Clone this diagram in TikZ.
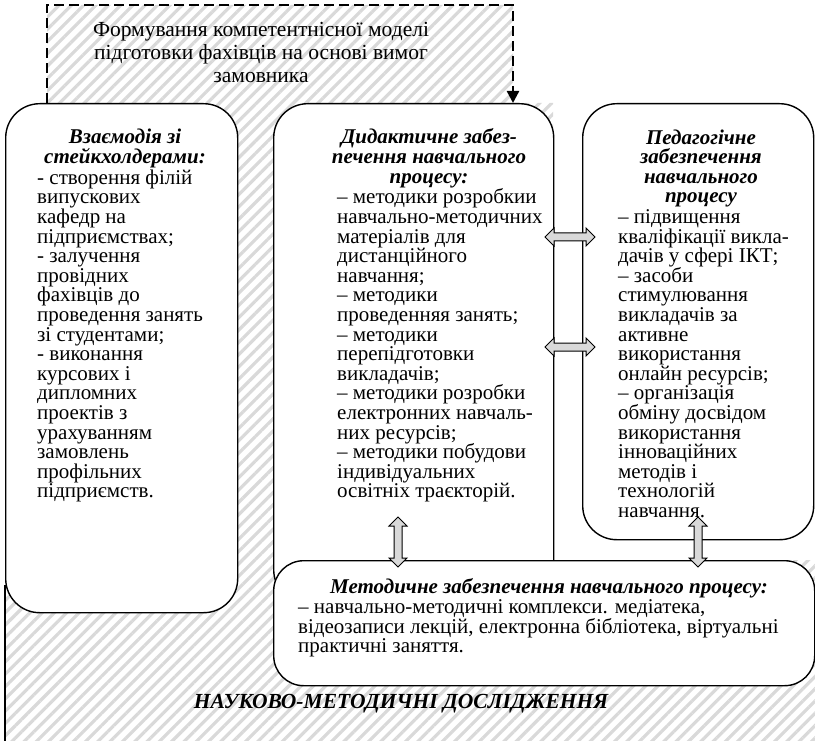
\documentclass[tikz,border=0pt]{standalone}
\usepackage{fontspec}
\setmainfont{Liberation Serif}
\usetikzlibrary{positioning,shapes.arrows,patterns.meta,arrows.meta}

\tikzset{
  hatch/.style={pattern={Lines[angle=45,distance=8.7pt,line width=3.2pt]}, pattern color=black!15},
  roundbox/.style={draw, line width=1.4pt, fill=white, rounded corners=34pt, inner sep=0pt},
  bodytext/.style={font=\fontsize{21}{19.6}\selectfont, align=left, inner sep=0pt},
  headtext/.style={font=\fontsize{21}{19.6}\selectfont\bfseries\itshape, align=center, inner sep=0pt},
  plaintext/.style={font=\fontsize{21.5}{23}\selectfont, align=center, inner sep=0pt},
  blockarrow/.style={double arrow, draw, line width=1pt, fill=black!15, inner sep=3.5pt,
    double arrow head extend=5pt, minimum height=50pt},
  bracket/.style={dash pattern=on 10pt off 5pt, line width=2.4pt, -{Triangle[length=12pt,width=12pt]}}
}

\begin{document}
\begin{tikzpicture}[x=1pt, y=-1pt]
  \useasboundingbox (0,0) rectangle (815,741);

  % hatched background
  \fill[hatch] (47,5) -- (513,5) -- (513,103) -- (553,103) -- (553,560) -- (815,560)
    -- (815,741) -- (5,741) -- (5,400) -- (47,400) -- cycle;
  \draw[line width=1.4pt] (5,585) -- (5,741);

  % boxes
  \node[roundbox, minimum width=232pt, minimum height=509pt, anchor=north west] (stake) at (5,103) {};
  \node[roundbox, minimum width=280pt, minimum height=500pt, anchor=north west] (did) at (273,103) {};
  \node[roundbox, minimum width=231pt, minimum height=436pt, anchor=north west] (ped) at (582,103) {};
  \node[roundbox, rounded corners=30pt, minimum width=541pt, minimum height=125pt,
        anchor=north west] (method) at (273,560) {};

  % customer model
  \coordinate (mtl) at (47,5);
  \coordinate (mtr) at (513,5);
  \draw[bracket] (stake.north -| mtl) -- (mtl) -- (mtr) -- (did.north -| mtr);
  \node[plaintext, anchor=base] (model) at (261,83)
    {Формування компетентнісної моделі\\ підготовки фахівців на основі вимог\\ замовника};

  % texts (base = last line)
  \node[headtext, anchor=base] (staketitle) at (125,163.6) {Взаємодія зі\\ стейкхолдерами:};
  \node[bodytext, anchor=base west] (staketext) at (37,497.8)
    {- створення філій\\ випускових\\ кафедр на\\ підприємствах;\\ - залучення\\ провідних\\
     фахівців до\\ проведення занять\\ зі студентами;\\ - виконання\\ курсових і\\ дипломних\\
     проектів з\\ урахуванням\\ замовлень\\ профільних\\ підприємств.};

  \node[headtext, anchor=base] (didtitle) at (429,183.2)
    {Дидактичне забез-\\ печення навчального\\ процесу:};
  \node[bodytext, anchor=base west] (didtext) at (337,497.8)
    {– методики розробкии\\ навчально-методичних\\ матеріалів для\\ дистанційного\\ навчання;\\
     – методики\\ проведенняя занять;\\ – методики\\ перепідготовки\\ викладачів;\\
     – методики розробки\\ електронних навчаль-\\ них ресурсів;\\ – методики побудови\\
     індивідуальних\\ освітніх траєкторій.};

  \node[headtext, anchor=base] (pedtitle) at (701,202.8)
    {Педагогічне\\ забезпечення\\ навчального\\ процесу};
  \node[bodytext, anchor=base west] (pedtext) at (618,517.4)
    {– підвищення\\ кваліфікації викла-\\ дачів у сфері ІКТ;\\ – засоби\\ стимулювання\\
     викладачів за\\ активне\\ використання\\ онлайн ресурсів;\\ – організація\\
     обміну досвідом\\ використання\\ інноваційних\\ методів і\\ технологій\\ навчання.};

  \node[headtext, anchor=base] (methodtitle) at (549,593)
    {Методичне забезпечення навчального процесу:};
  \node[bodytext, anchor=base west] (methodtext) at (298,652.8)
    {– навчально-методичні комплекси. медіатека,\\
     відеозаписи лекцій, електронна бібліотека, віртуальні\\ практичні заняття.};

  \node[headtext, font=\fontsize{21.5}{19.6}\selectfont\bfseries\itshape, anchor=base]
    (research) at (401,708) {НАУКОВО-МЕТОДИЧНІ ДОСЛІДЖЕННЯ};

  % links
  \node[blockarrow] (pd1) at (570,237) {};
  \node[blockarrow] (pd2) at (570,347) {};
  \node[blockarrow, shape border rotate=90] (dm) at (398,542) {};
  \node[blockarrow, shape border rotate=90] (pm) at (698,542) {};
\end{tikzpicture}
\end{document}
